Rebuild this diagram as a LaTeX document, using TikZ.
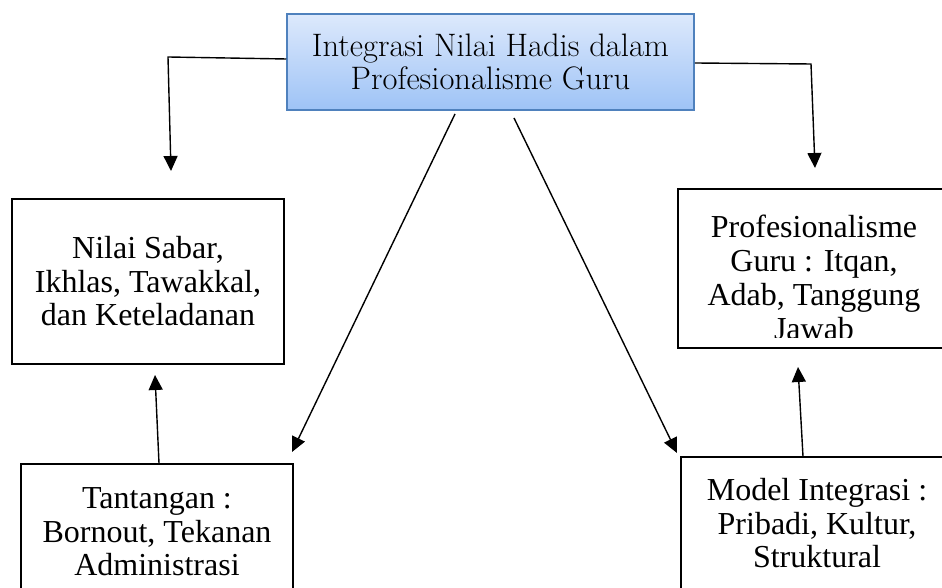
\documentclass[tikz,border=0pt]{standalone}
\usepackage{fontspec}
\newfontfamily\tnr{Liberation Serif}
\usetikzlibrary{arrows.meta}
\definecolor{bordblue}{RGB}{79,129,189}
\definecolor{topblue}{RGB}{221,233,252}
\definecolor{botblue}{RGB}{158,195,246}
\begin{document}
\begin{tikzpicture}[x=1pt,y=1pt,
  box/.style={draw=black, line width=1.3pt, minimum width=272pt, inner sep=0pt, align=center,
    font=\tnr\fontsize{32}{33.5}\selectfont},
  txt/.style={font=\tnr\fontsize{32}{34}\selectfont, align=center, inner sep=0pt},
  conn/.style={line width=1.4pt, -{Triangle[length=15pt,width=14pt]}}]
\useasboundingbox (0,0) rectangle (942,588);

% top box
\node[draw=bordblue, line width=1.5pt, top color=topblue, bottom color=botblue,
  minimum width=407pt, minimum height=96pt, inner sep=0pt,
  font=\fontsize{32.5}{33.5}\selectfont, align=center] (top) at (490.5,526)
  {Integrasi Nilai Hadis dalam\\Profesionalisme Guru};

% left box
\node[box, minimum height=165pt] (sabar) at (148,306.5)
  {Nilai Sabar,\\Ikhlas, Tawakkal,\\dan Keteladanan};

% right box (text overflows and is clipped)
\node[box, minimum height=159pt] (prof) at (814,319.5) {};
\begin{scope}
  \clip ([yshift=11pt]prof.south west) rectangle (prof.north east);
  \node[txt] (proftext) at ([yshift=-9pt]prof.center)
    {Profesionalisme\\Guru : Itqan,\\Adab, Tanggung\\Jawab};
\end{scope}

% bottom boxes
\node[box, minimum height=136pt] (tant) at (157,56)
  {Tantangan :\\Bornout, Tekanan\\Administrasi};
\node[box, minimum height=133pt] (model) at (817,64.5)
  {Model Integrasi :\\Pribadi, Kultur,\\Struktural};

% connector points
\coordinate (tlcorner) at (168,531);
\coordinate (tlend) at (171,417);
\coordinate (trcorner) at (811,524);
\coordinate (trend) at (815,420);
\coordinate (dlstart) at (455,474);
\coordinate (dlend) at (292,136);
\coordinate (drstart) at (514,470);
\coordinate (drend) at (677,135);
\coordinate (ulend) at (155,213);
\coordinate (urend) at (798,221);

\draw[conn] ([yshift=3pt]top.west) -- (tlcorner) -- (tlend);
\draw[conn] ([yshift=-1pt]top.east) -- (trcorner) -- (trend);
\draw[conn] (dlstart) -- (dlend);
\draw[conn] (drstart) -- (drend);
\draw[conn] ([xshift=2pt]tant.north) -- (ulend);
\draw[conn] ([xshift=-14pt]model.north) -- (urend);
\end{tikzpicture}
\end{document}
